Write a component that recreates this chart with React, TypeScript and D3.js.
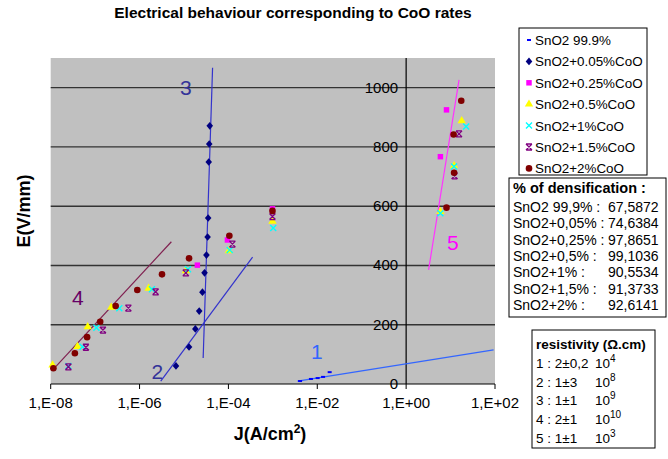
import React from "react";
import * as d3 from "d3";

// chart texts
const title = "Electrical behaviour corresponding to CoO rates";
const xTicks = [1e-8, 1e-6, 1e-4, 1e-2, 1, 1e2];
const xTickLabels = ["1,E-08", "1,E-06", "1,E-04", "1,E-02", "1,E+00", "1,E+02"];
const yTicks = [0, 200, 400, 600, 800, 1000];

const seriesNames = [
  "SnO2 99.9%",
  "SnO2+0.05%CoO",
  "SnO2+0.25%CoO",
  "SnO2+0.5%CoO",
  "SnO2+1%CoO",
  "SnO2+1.5%CoO",
  "SnO2+2%CoO",
];

// [J (A/cm2), E (V/mm)]
const pure999 = [[4.1e-3, 10], [7.2e-3, 17], [1.02e-2, 20], [1.35e-2, 24], [1.9e-2, 40]];
const coo005 = [
  [3.8e-5, 871], [3.7e-5, 810], [3.6e-5, 749], [3.5e-5, 560], [3.4e-5, 496], [3.2e-5, 435],
  [2.9e-5, 375], [2.6e-5, 310], [2.2e-5, 246], [1.8e-5, 186], [1.3e-5, 125], [6.6e-6, 61],
];
const coo025 = [[2.0e-5, 401], [9.5e-5, 486], [9.8e-4, 591], [5.9, 767], [8.1, 925]];
const coo05 = [
  [1.1e-8, 64], [4.0e-8, 126], [6.8e-8, 193], [2.3e-7, 259], [1.6e-6, 323], [1.1e-5, 382],
  [1.02e-4, 449], [9.8e-4, 549], [5.9, 582], [12, 736], [17.8, 888],
];
const coo1 = [
  [2.5e-8, 61], [5.2e-8, 126], [1.07e-7, 190], [3.5e-7, 256], [1.9e-6, 320], [1.23e-5, 387],
  [1.07e-4, 452], [1.02e-3, 526], [5.9, 576], [12, 734], [22.4, 869],
];
const coo15 = [
  [2.5e-8, 58], [6.2e-8, 124], [1.5e-7, 182], [5.6e-7, 256], [2.3e-6, 311], [1.1e-5, 375],
  [1.23e-4, 472], [9.8e-4, 565], [12.3, 702], [15.5, 844],
];
const coo2 = [
  [1.15e-8, 53], [3.5e-8, 104], [6.6e-8, 158], [1.3e-7, 210], [2.9e-7, 263], [8.9e-7, 317],
  [3.2e-6, 370], [1.3e-5, 424], [1.05e-4, 500], [9.8e-4, 584], [8.1, 595], [12, 713],
  [11.7, 842], [17.4, 956],
];
const seriesData = [pure999, coo005, coo025, coo05, coo1, coo15, coo2];

// numbered trend lines
const lineNames = ["1", "2", "3", "4", "5"];
const lineEnds = [
  [[3.6e-3, 10], [93, 115]],
  [[3.0e-6, 10], [3.5e-4, 428]],
  [[2.7e-5, 88], [4.4e-5, 1067]],
  [[1.1e-8, 47], [5.2e-6, 480]],
  [[3.2, 385], [15.5, 1026]],
];
const lineLabelAt = [[9.8e-3, 108], [2.5e-6, 42], [1.1e-5, 999], [4.1e-8, 290], [11.2, 476]];

const densHeader = "% of densification :";
const densNames = ["SnO2 99,9% :", "SnO2+0,05% :", "SnO2+0,25% :", "SnO2+0,5% :", "SnO2+1% :", "SnO2+1,5% :", "SnO2+2% :"];
const densValues = ["67,5872", "74,6384", "97,8651", "99,1036", "90,5534", "91,3733", "92,6141"];

const resHeader = "resistivity (\u03A9.cm)";
const resNames = ["1 : 2\u00B10,2", "2 : 1\u00B13", "3 : 1\u00B11", "4 : 2\u00B11", "5 : 1\u00B11"];
const resExp = ["4", "8", "9", "10", "3"];

const seriesColors = ["#0000ff", "#000080", "#ff00ff", "#ffff00", "#00ffff", "#800080", "#800000"];
const lineColors = ["#3366ff", "#3333cc", "#3333cc", "#802050", "#ff33ff"];
const labelColors = ["#3366ff", "#333399", "#333399", "#660066", "#ff00ff"];

const font = "'Liberation Sans', Arial, sans-serif";

function Marker({ i, x, y }: { i: number; x: number; y: number }) {
  const c = seriesColors[i];
  const t = `translate(${x},${y})`;
  if (i === 0) return <line x1={x - 2} x2={x + 2} y1={y} y2={y} stroke={c} strokeWidth={2} />;
  if (i === 1) return <path transform={t} d="M0,-3.8L3.3,0L0,3.8L-3.3,0Z" fill={c} />;
  if (i === 2) return <path transform={t} d={d3.symbol(d3.symbolSquare, 30)()!} fill={c} />;
  if (i === 3) return <path transform={t} d={d3.symbol(d3.symbolTriangle, 30)()!} fill={c} />;
  if (i === 4)
    return <path transform={t} d="M-3,-3L3,3M3,-3L-3,3" stroke={c} strokeWidth={1.4} fill="none" />;
  if (i === 5)
    return (
      <path transform={t} d="M-3,-3L3,3M3,-3L-3,3M-3,-3L3,-3M-3,3L3,3" stroke={c} strokeWidth={1.3} fill="none" />
    );
  return <circle cx={x} cy={y} r={3.3} fill={c} />;
}

export default function App() {
  const W = 668, H = 459;
  const x = d3.scaleLog().domain([1e-8, 1e2]).range([50.7, 495]);
  const y = d3.scaleLinear().domain([0, 1100]).range([384, 58]);
  const x0 = x(1);

  return (
    <svg width={W} height={H} style={{ position: "absolute", left: 0, top: 0, background: "#fff" }} fontFamily={font}>
      <text x={293} y={18} textAnchor="middle" fontSize={15.5} fontWeight="bold">{title}</text>

      {/* plot area */}
      <rect x={x(1e-8)} y={y(1100)} width={x(1e2) - x(1e-8)} height={y(0) - y(1100)} fill="#c0c0c0" />
      {yTicks.filter((v) => v > 0).map((v) => (
        <line key={v} x1={x(1e-8)} x2={x(1e2)} y1={y(v)} y2={y(v)} stroke="#333" strokeWidth={1.4} />
      ))}
      <line x1={x0} x2={x0} y1={y(1100)} y2={y(0)} stroke="#000" strokeWidth={1.2} />
      <line x1={x(1e-8)} x2={x(1e2)} y1={y(0)} y2={y(0)} stroke="#000" strokeWidth={1.2} />
      {xTicks.map((v, i) => (
        <g key={i}>
          <line x1={x(v)} x2={x(v)} y1={y(0)} y2={y(0) + 5} stroke="#000" />
          <text x={x(v)} y={y(0) + 24} textAnchor="middle" fontSize={15}>{xTickLabels[i]}</text>
        </g>
      ))}
      {yTicks.map((v) => (
        <text key={v} x={x0 - 8} y={y(v) + 5} textAnchor="end" fontSize={15}>{v}</text>
      ))}

      {/* trend lines */}
      {lineEnds.map((l, i) => (
        <line key={i} x1={x(l[0][0])} y1={y(l[0][1])} x2={x(l[1][0])} y2={y(l[1][1])} stroke={lineColors[i]} strokeWidth={1.2} />
      ))}
      {lineLabelAt.map((p, i) => (
        <text key={i} x={x(p[0])} y={y(p[1]) + 7} textAnchor="middle" fontSize={21} fill={labelColors[i]}>{lineNames[i]}</text>
      ))}

      {/* points */}
      {seriesData.map((s, i) => (
        <g key={i}>
          {s.map((p, j) => <Marker key={j} i={i} x={x(p[0])} y={y(p[1])} />)}
        </g>
      ))}

      {/* axis titles */}
      <text transform={`translate(30,${211}) rotate(-90)`} textAnchor="middle" fontSize={18} fontWeight="bold">E(V/mm)</text>
      <text x={270} y={440} textAnchor="middle" fontSize={18} fontWeight="bold">
        J(A/cm<tspan dy={-7} fontSize={12}>2</tspan><tspan dy={7}>)</tspan>
      </text>

      {/* legend */}
      <rect x={519} y={28} width={128} height={147} fill="#fff" stroke="#000" />
      {seriesNames.map((n, i) => (
        <g key={n}>
          <Marker i={i} x={529} y={40 + i * 21.4} />
          <text x={535} y={40 + i * 21.4 + 5} fontSize={13.4}>{n}</text>
        </g>
      ))}

      {/* densification */}
      <rect x={509} y={178} width={157} height={139} fill="#fff" stroke="#000" />
      <text x={513} y={193} fontSize={14.5} fontWeight="bold">{densHeader}</text>
      {densNames.map((n, i) => (
        <g key={n}>
          <text x={513} y={212 + i * 16.3} fontSize={14}>{n}</text>
          <text x={608} y={212 + i * 16.3} fontSize={14}>{densValues[i]}</text>
        </g>
      ))}

      {/* resistivity */}
      <rect x={532} y={330} width={123} height={118} fill="#fff" stroke="#000" />
      <text x={536} y={349} fontSize={13.5} fontWeight="bold">{resHeader}</text>
      {resNames.map((n, i) => (
        <g key={n}>
          <text x={536} y={368 + i * 18.7} fontSize={13.5}>{n}</text>
          <text x={595} y={368 + i * 18.7} fontSize={13.5}>
            10<tspan dy={-6} fontSize={10}>{resExp[i]}</tspan>
          </text>
        </g>
      ))}
    </svg>
  );
}
